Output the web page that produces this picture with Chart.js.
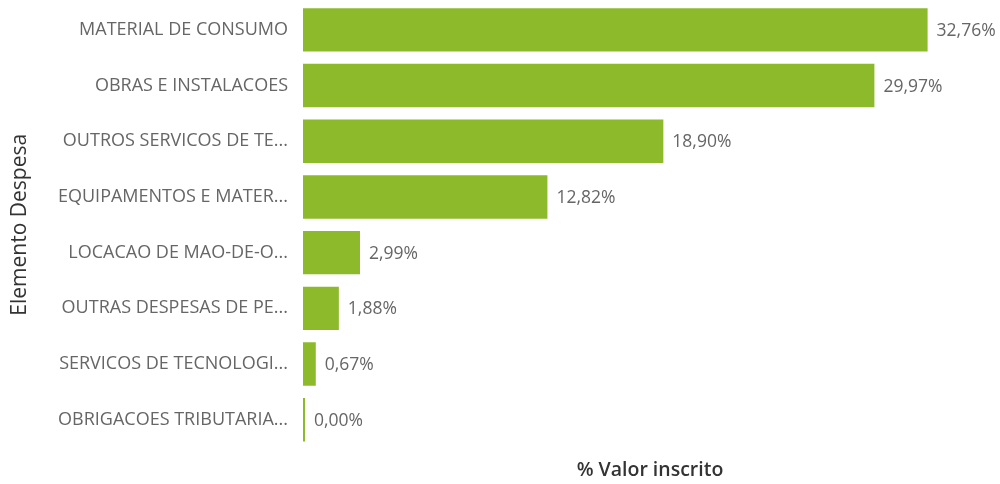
<!DOCTYPE html>
<html>
<head>
<meta charset="utf-8">
<script src="https://cdn.jsdelivr.net/npm/chart.js@4"></script>
<style>
  html, body { margin: 0; padding: 0; background: #fff; }
  #wrap { width: 1000px; height: 484px; }
</style>
</head>
<body>
<div id="wrap"><canvas id="myChart"></canvas></div>
<script>
// categories (truncated as shown in the report)
const categorias = [
  'MATERIAL DE CONSUMO',
  'OBRAS E INSTALACOES',
  'OUTROS SERVICOS DE TE...',
  'EQUIPAMENTOS E MATER...',
  'LOCACAO DE MAO-DE-O...',
  'OUTRAS DESPESAS DE PE...',
  'SERVICOS DE TECNOLOGI...',
  'OBRIGACOES TRIBUTARIA...'
];
// % valor inscrito
const percentuais = [32.76, 29.97, 18.90, 12.82, 2.99, 1.88, 0.67, 0.00];

const fmt = v => v.toFixed(2).replace('.', ',') + '%';

// draws the value at the end of each bar
const rotulos = {
  id: 'rotulos',
  afterDatasetsDraw(chart) {
    const ctx = chart.ctx;
    const meta = chart.getDatasetMeta(0);
    ctx.save();
    ctx.font = '17.5px "Open Sans"';
    ctx.fillStyle = '#666666';
    ctx.textAlign = 'left';
    ctx.textBaseline = 'middle';
    meta.data.forEach((bar, i) => {
      ctx.fillText(fmt(percentuais[i]), bar.x + 9, bar.y + 1);
    });
    ctx.restore();
  }
};

var ctx = document.getElementById('myChart').getContext('2d');
var myChart = new Chart(ctx, {
  type: 'bar',
  data: {
    labels: categorias,
    datasets: [{
      label: '% Valor inscrito',
      data: percentuais,
      backgroundColor: '#8cba2b',
      borderWidth: 0,
      minBarLength: 2,
      categoryPercentage: 0.78,
      barPercentage: 1
    }]
  },
  plugins: [rotulos],
  options: {
    indexAxis: 'y',
    responsive: true,
    maintainAspectRatio: false,
    animation: false,
    layout: { padding: { top: 2, right: 3, left: 0, bottom: 0 } },
    plugins: {
      legend: { display: false },
      tooltip: { enabled: false }
    },
    scales: {
      x: {
        min: 0,
        max: 36.4,
        ticks: { display: false },
        grid: { display: false, drawTicks: false },
        border: { display: false },
        title: {
          display: true,
          text: '% Valor inscrito',
          color: '#333333',
          font: { family: '"Open Sans"', size: 19.5, weight: '600' },
          padding: { top: 11, bottom: 2 }
        }
      },
      y: {
        afterFit(scale) {
          scale.width = 303;
          scale.paddingTop = 0;
          scale.paddingBottom = 0;
        },
        grid: { display: false, drawTicks: false },
        border: { display: false },
        ticks: {
          color: '#666666',
          padding: 15,
          font: { family: '"Open Sans"', size: 18 }
        },
        title: {
          display: true,
          text: 'Elemento Despesa',
          color: '#333333',
          font: { family: '"Open Sans"', size: 21 },
          padding: { top: 7, bottom: 0 }
        }
      }
    }
  }
});
</script>
</body>
</html>
